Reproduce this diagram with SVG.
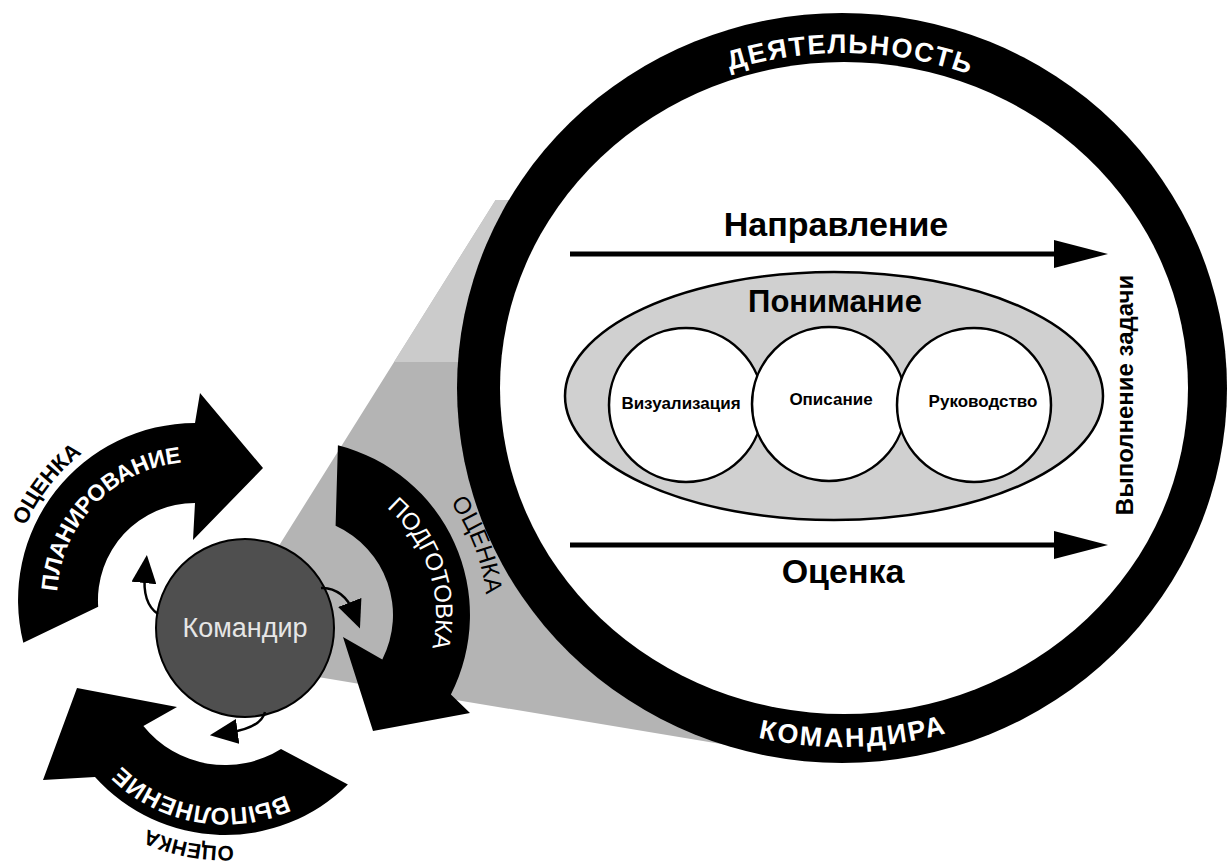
<svg xmlns="http://www.w3.org/2000/svg" width="1228" height="866" viewBox="0 0 1228 866">
<style>
  text { font-family: "Liberation Sans", Arial, sans-serif; }
  .wb { fill: #fff; font-weight: bold; }
  .wn { fill: #fff; font-weight: normal; }
  .bb { fill: #000; font-weight: bold; }
  .bn { fill: #000; font-weight: normal; }
  .arrow { fill: #000; }
  .conn { fill: none; stroke: #000; stroke-width: 2.5; }
  .big { fill: none; stroke: #000; stroke-width: 5; }
  .circ { fill: #fff; stroke: #000; stroke-width: 2.5; }
</style>
<defs>
  <marker id="sm" markerUnits="userSpaceOnUse" markerWidth="28" markerHeight="25" refX="10" refY="12.5" orient="auto" viewBox="0 0 28 25"><path d="M0,0 L28,12.5 L0,25 z" fill="#000"/></marker>
  <marker id="bg" markerUnits="userSpaceOnUse" markerWidth="54" markerHeight="28" refX="20" refY="14" orient="auto" viewBox="0 0 54 28"><path d="M0,0 L54,14 L0,28 z" fill="#000"/></marker>
  <path id="p1" d="M71.0,660.5 A138,138 0 0 1 251.1,473.9"/>
  <path id="p2" d="M23.5,669.3 A185,185 0 0 1 220.7,416.8"/>
  <path id="p3" d="M299.9,474.1 A141,141 0 0 1 381.8,726.1"/>
  <path id="p4" d="M325.0,425.4 A192,192 0 0 1 444.2,735.8"/>
  <path id="p5" d="M353.2,734 A148,148 0 0 1 79.2,685.7"/>
  <path id="p6" d="M365.4,782.0 A186,186 0 0 1 49.1,720.6"/>
  <path id="p7" d="M486,388 A357,335 0 0 1 1200,388"/>
  <path id="p8" d="M469,388 A374,359 0 0 0 1217,388"/>
</defs>
<rect width="1228" height="866" fill="#fff"/>

<g id="cone">
  <polygon points="270,560 495.6,200 600,200 600,600 745,748 300,674" fill="#b4b4b4"/>
  <polygon points="394,362 495.6,200 600,200 600,362" fill="#cbcbcb"/>
</g>

<g id="activity">
  <path d="M457,388 A385,375 0 1 0 1227,388 A385,375 0 1 0 457,388 Z" fill="#000"/>
  <path d="M500,388 A344,326 0 1 0 1188,388 A344,326 0 1 0 500,388 Z" fill="#fff"/>
  <text class="wb" font-size="27" text-anchor="middle"><textPath href="#p7" startOffset="50.6%" textLength="243" lengthAdjust="spacing">ДЕЯТЕЛЬНОСТЬ</textPath></text>
  <text class="wb" font-size="27" text-anchor="middle"><textPath href="#p8" startOffset="50.8%" textLength="190" lengthAdjust="spacing">КОМАНДИРА</textPath></text>
</g>

<g id="understanding">
  <ellipse cx="834" cy="396" rx="269" ry="124" fill="#d0d0d0" stroke="#000" stroke-width="2.5"/>
  <text class="bb" font-size="31" x="835" y="312" text-anchor="middle">Понимание</text>
</g>
<g id="visualization">
  <circle class="circ" cx="686" cy="405" r="77"/>
  <text class="bb" font-size="17" x="681" y="409" text-anchor="middle">Визуализация</text>
</g>
<g id="description">
  <circle class="circ" cx="829" cy="404" r="77"/>
  <text class="bb" font-size="17" x="831" y="405" text-anchor="middle">Описание</text>
</g>
<g id="leading">
  <circle class="circ" cx="974" cy="405" r="77"/>
  <text class="bb" font-size="17" x="983" y="407" text-anchor="middle">Руководство</text>
</g>
<g id="direction">
  <text class="bb" font-size="34" x="836" y="236" text-anchor="middle">Направление</text>
</g>
<g id="assessment">
  <text class="bb" font-size="34" x="843" y="583" text-anchor="middle">Оценка</text>
</g>
<g id="mission">
  <text class="bb" font-size="24" transform="translate(1133,395) rotate(-90)" text-anchor="middle">Выполнение задачи</text>
</g>

<g id="arrow-planning">
  <path class="arrow" d="M98.2,606.8 A97,97 0 0 1 195,503 L193,540 L263,468 L200,393 L195,423 A177,177 0 0 0 23.3,642.8 Z"/>
  <text class="wb" font-size="23" text-anchor="middle"><textPath href="#p1" startOffset="50%" textLength="195" lengthAdjust="spacing">ПЛАНИРОВАНИЕ</textPath></text>
  <text class="bb" font-size="22" text-anchor="middle"><textPath href="#p2" startOffset="50%">ОЦЕНКА</textPath></text>
</g>

<g id="arrow-preparation">
  <path class="arrow" d="M337.9,445.3 A175,175 0 0 1 450.9,694.4 L470,713 L373,731 L343,637 L382.3,659.5 A98,98 0 0 0 335.6,525.8 Z"/>
  <text class="wn" font-size="24" text-anchor="middle"><textPath href="#p3" startOffset="50%" textLength="155" lengthAdjust="spacing">ПОДГОТОВКА</textPath></text>
  <text class="bn" font-size="24" text-anchor="middle"><textPath href="#p4" startOffset="50%">ОЦЕНКА</textPath></text>
</g>

<g id="arrow-execution">
  <path class="arrow" d="M281.0,748.9 A105,105 0 0 1 143.4,726.1 L177,707 L77,688 L43,780 L95.0,777.1 A175,175 0 0 0 347.9,784.6 Z"/>
  <text class="wb" font-size="24" text-anchor="middle"><textPath href="#p5" startOffset="50%">ВЫПОЛНЕНИЕ</textPath></text>
  <text class="bb" font-size="21" text-anchor="middle"><textPath href="#p6" startOffset="50%">ОЦЕНКА</textPath></text>
</g>

<g id="commander">
  <circle cx="245" cy="628" r="89" fill="#4f4f4f" stroke="#000" stroke-width="2"/>
  <text x="245" y="637" font-size="27" fill="#e6e6e6" text-anchor="middle">Командир</text>
</g>

<g id="connectors">
  <path class="conn" d="M158,614 C146,606 143,592 145,573" marker-end="url(#sm)"/>
  <path class="conn" d="M321,588 C336,587 348,598 353.4,611.8" marker-end="url(#sm)"/>
  <path class="conn" d="M265,712 C262,724 248,730 227.7,732.8" marker-end="url(#sm)"/>
  <path class="big" d="M570,254 L1074,254" marker-end="url(#bg)"/>
  <path class="big" d="M570,545 L1074,545" marker-end="url(#bg)"/>
</g>
</svg>
